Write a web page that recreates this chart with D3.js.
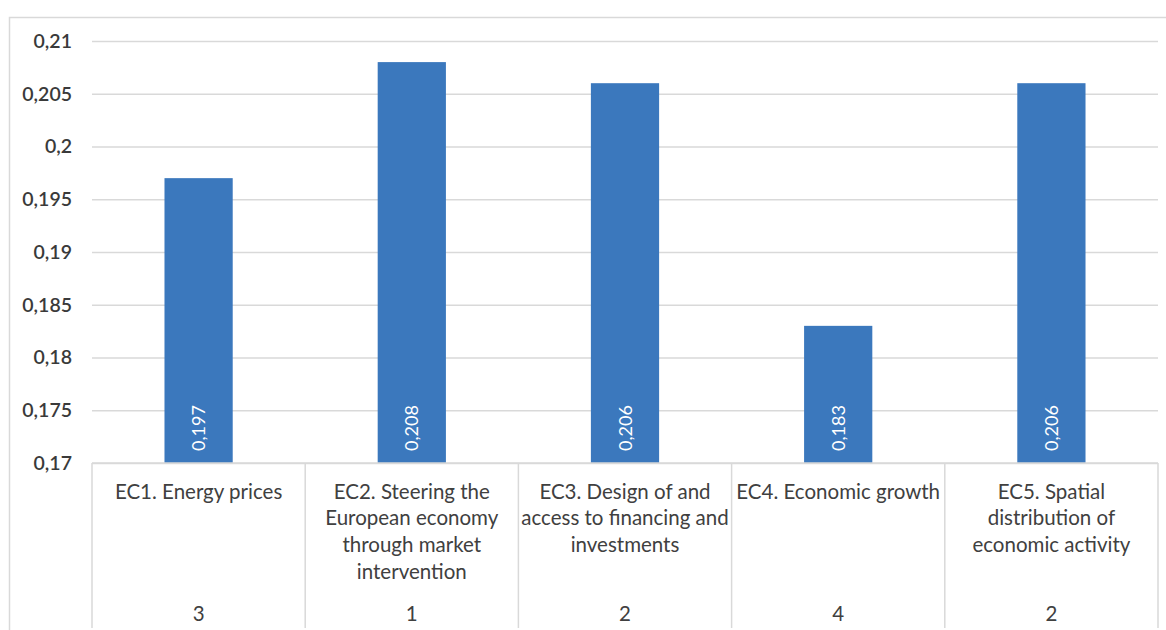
<!DOCTYPE html>
<html>
<head>
<meta charset="utf-8">
<script src="https://cdn.jsdelivr.net/npm/d3@7"></script>
<style>
  html, body { margin: 0; padding: 0; background: #fff; }
  svg { display: block; font-family: Lato, "Noto Sans", sans-serif; }
</style>
</head>
<body>
<svg id="chart" width="1166" height="630"></svg>
<script>
// Category labels (line breaks as shown under each bar)
const categories = [
  "EC1. Energy prices",
  "EC2. Steering the\nEuropean economy\nthrough market\nintervention",
  "EC3. Design of and\naccess to financing and\ninvestments",
  "EC4. Economic growth",
  "EC5. Spatial\ndistribution of\neconomic activity"
];
// Rank shown on the second axis row
const ranks = ["3", "1", "2", "4", "2"];
// Bar values
const values = [0.197, 0.208, 0.206, 0.183, 0.206];
// Y axis ticks
const yTicks = [0.17, 0.175, 0.18, 0.185, 0.19, 0.195, 0.2, 0.205, 0.21];

const W = 1166, H = 630;
const plot = { left: 92, right: 1158, top: 41, bottom: 463 };
const textColor = "#404040";
const gridColor = "#d9d9d9";
const barColor = "#3b78bd";

const svg = d3.select("#chart");
const fmt = v => String(+v.toFixed(3)).replace(".", ",");

// Outer frame
svg.append("rect")
  .attr("x", 9.5).attr("y", 17.5)
  .attr("width", W).attr("height", H)
  .attr("fill", "none").attr("stroke", gridColor).attr("stroke-width", 1.5);

const x = d3.scaleBand()
  .domain(d3.range(categories.length))
  .range([plot.left, plot.right])
  .paddingInner(0.68).paddingOuter(0.34);

const xCat = d3.scaleBand()
  .domain(d3.range(categories.length))
  .range([plot.left, plot.right]);

const y = d3.scaleLinear()
  .domain([0.17, 0.21])
  .range([plot.bottom, plot.top]);

// Horizontal gridlines and y labels
const yAxis = d3.axisLeft(y)
  .tickValues(yTicks)
  .tickSize(-(plot.right - plot.left))
  .tickPadding(20)
  .tickFormat(fmt);

const gy = svg.append("g")
  .attr("transform", `translate(${plot.left},0)`)
  .call(yAxis);
gy.select(".domain").remove();
gy.selectAll(".tick line").attr("stroke", gridColor).attr("stroke-width", 1.5);
gy.selectAll(".tick text")
  .attr("fill", "#3a3a3a")
  .attr("font-size", 19.5)
  .attr("font-family", "Lato, sans-serif")
  .attr("font-weight", 600);

// Bars
svg.append("g").selectAll("rect")
  .data(values)
  .join("rect")
  .attr("x", (d, i) => x(i))
  .attr("y", d => y(d))
  .attr("width", x.bandwidth())
  .attr("height", d => y(0.17) - y(d))
  .attr("fill", barColor);

// Value labels inside the bars, rotated
svg.append("g").selectAll("text")
  .data(values)
  .join("text")
  .attr("transform", (d, i) => `translate(${x(i) + x.bandwidth() / 2 + 6.5},${plot.bottom - 12}) rotate(-90)`)
  .attr("text-anchor", "start")
  .attr("fill", "#ffffff")
  .attr("font-size", 18)
  .text(d => fmt(d));

// Category axis baseline and separators
const gx = svg.append("g");
gx.append("line")
  .attr("x1", plot.left).attr("x2", plot.right)
  .attr("y1", plot.bottom).attr("y2", plot.bottom)
  .attr("stroke", gridColor).attr("stroke-width", 1.5);
gx.selectAll("line.sep")
  .data(d3.range(categories.length + 1))
  .join("line")
  .attr("class", "sep")
  .attr("x1", i => i < categories.length ? xCat(i) : plot.right)
  .attr("x2", i => i < categories.length ? xCat(i) : plot.right)
  .attr("y1", plot.bottom).attr("y2", 628)
  .attr("stroke", gridColor).attr("stroke-width", 1.5);

// Category names
gx.selectAll("text.cat")
  .data(categories)
  .join("text")
  .attr("class", "cat")
  .attr("text-anchor", "middle")
  .attr("fill", textColor)
  .attr("font-size", 20.5)
  .each(function(d, i) {
    const t = d3.select(this);
    d.split("\n").forEach((line, k) => {
      t.append("tspan")
        .attr("x", xCat(i) + xCat.bandwidth() / 2)
        .attr("y", 498.5 + k * 26.8)
        .text(line);
    });
  });

// Ranks
gx.selectAll("text.rank")
  .data(ranks)
  .join("text")
  .attr("class", "rank")
  .attr("text-anchor", "middle")
  .attr("fill", textColor)
  .attr("font-size", 20.5)
  .attr("x", (d, i) => xCat(i) + xCat.bandwidth() / 2)
  .attr("y", 620.5)
  .text(d => d);
</script>
</body>
</html>
